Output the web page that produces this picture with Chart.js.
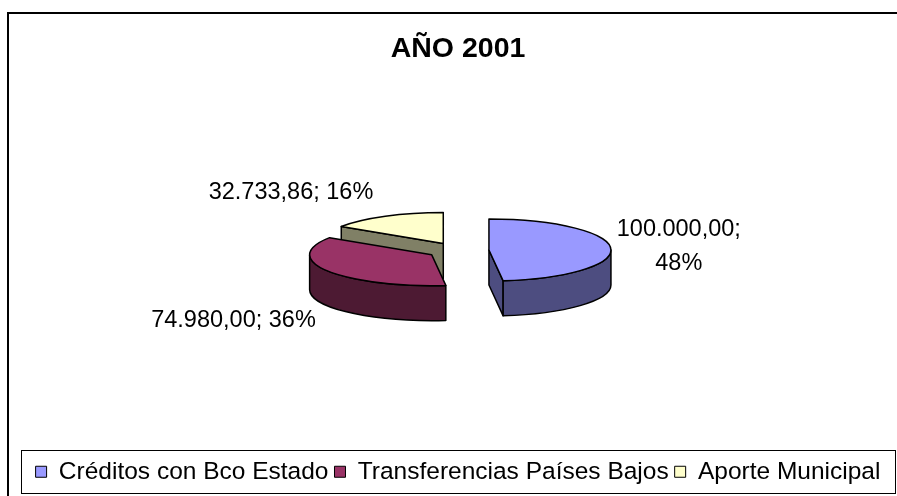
<!DOCTYPE html>
<html>
<head>
<meta charset="utf-8">
<style>
html,body{margin:0;padding:0;background:#fff;}
#wrap{width:897px;height:496px;position:relative;overflow:hidden;}
canvas{display:block;}
</style>
<script src="https://cdn.jsdelivr.net/npm/chart.js@4.4.1/dist/chart.umd.min.js"></script>
</head>
<body>
<div id="wrap"><canvas id="c" width="897" height="496"></canvas></div>
<script>
// ---- data ----
const categories = ['Créditos con Bco Estado', 'Transferencias Países Bajos', 'Aporte Municipal'];
const values = [100000.00, 74980.00, 32733.86];
const topColors = ['#9999FF', '#993366', '#FFFFCC'];
const sideColors = ['#4D4D80', '#4D1A33', '#808066'];
const chartTitle = 'AÑO 2001';

// ---- style / geometry ----
const FONT = "'Liberation Sans', Arial, Helvetica, sans-serif";
const SQUASH = 0.254;   // vertical foreshortening of the pie
const DEPTH = 35;       // thickness of the 3D pie (px)
const EXPLODE = 31;     // slice explosion distance
const CENTER_Y = 250.5; // screen y of pie centre

function fmtEs(v) {
  const parts = v.toFixed(2).split('.');
  return parts[0].replace(/\B(?=(\d{3})+(?!\d))/g, '.') + ',' + parts[1];
}

function geom(chart, el) {
  const ty = chart.$ty;
  return {
    cx: el.x,
    cy: ty + SQUASH * el.y,
    R: el.outerRadius,
    ry: el.outerRadius * SQUASH,
    a1: el.startAngle,
    a2: el.endAngle
  };
}

const pie3d = {
  id: 'pie3d',
  afterDatasetUpdate(chart, args) {
    args.meta.data.forEach(el => {
      const m = (el.startAngle + el.endAngle) / 2;
      el.x += Math.cos(m) * EXPLODE;
      el.y += Math.sin(m) * EXPLODE;
    });
  },
  beforeDatasetsDraw(chart) {
    const ctx = chart.ctx;
    const meta = chart.getDatasetMeta(0);
    const ca = chart.chartArea;
    const cy0 = (ca.top + ca.bottom) / 2;
    chart.$ty = CENTER_Y - SQUASH * cy0;
    const mid = i => (meta.data[i].startAngle + meta.data[i].endAngle) / 2;
    const order = meta.data.map((e, i) => i).sort((a, b) => Math.sin(mid(a)) - Math.sin(mid(b)));
    ctx.save();
    ctx.lineWidth = 1.5;
    ctx.strokeStyle = '#000';
    ctx.lineJoin = 'round';
    for (const i of order) {
      const g = geom(chart, meta.data[i]);
      ctx.fillStyle = sideColors[i];
      const face = t => {
        const px = g.cx + g.R * Math.cos(t), py = g.cy + g.ry * Math.sin(t);
        ctx.beginPath();
        ctx.moveTo(g.cx, g.cy);
        ctx.lineTo(px, py);
        ctx.lineTo(px, py + DEPTH);
        ctx.lineTo(g.cx, g.cy + DEPTH);
        ctx.closePath();
        ctx.fill();
        ctx.stroke();
      };
      if (Math.cos(g.a1) < -1e-9) face(g.a1);
      if (Math.cos(g.a2) > 1e-9) face(g.a2);
      for (const base of [-2 * Math.PI, 0, 2 * Math.PI]) {
        const s = Math.max(g.a1, base), e = Math.min(g.a2, base + Math.PI);
        if (e > s) {
          ctx.beginPath();
          ctx.ellipse(g.cx, g.cy, g.R, g.ry, 0, s, e, false);
          ctx.lineTo(g.cx + g.R * Math.cos(e), g.cy + g.ry * Math.sin(e) + DEPTH);
          ctx.ellipse(g.cx, g.cy + DEPTH, g.R, g.ry, 0, e, s, true);
          ctx.closePath();
          ctx.fill();
          ctx.stroke();
        }
      }
    }
    ctx.restore();
    // squash transform for the library-drawn top faces
    ctx.save();
    ctx.translate(0, chart.$ty);
    ctx.scale(1, SQUASH);
  },
  afterDatasetsDraw(chart) {
    const ctx = chart.ctx;
    ctx.restore();
    const meta = chart.getDatasetMeta(0);
    ctx.save();
    ctx.lineWidth = 1.5;
    ctx.strokeStyle = '#000';
    ctx.lineJoin = 'round';
    meta.data.forEach(el => {
      const g = geom(chart, el);
      ctx.beginPath();
      ctx.moveTo(g.cx, g.cy);
      ctx.lineTo(g.cx + g.R * Math.cos(g.a1), g.cy + g.ry * Math.sin(g.a1));
      ctx.ellipse(g.cx, g.cy, g.R, g.ry, 0, g.a1, g.a2, false);
      ctx.closePath();
      ctx.stroke();
    });
    // data labels
    const total = values.reduce((a, b) => a + b, 0);
    ctx.font = '23.5px ' + FONT;
    ctx.fillStyle = '#000';
    ctx.textBaseline = 'middle';
    meta.data.forEach((el, i) => {
      const g = geom(chart, el);
      const m = (g.a1 + g.a2) / 2;
      const c = Math.cos(m), s = Math.sin(m);
      const rx = g.cx + g.R * c, ryy = g.cy + g.ry * s;
      const ly = ryy + s * 27 + (s > 0 ? DEPTH : 0);
      const valTxt = fmtEs(values[i]) + ';';
      const pctTxt = Math.round(values[i] / total * 100) + '%';
      if (c > 0) {
        const lx = rx + 6;
        const w = Math.max(ctx.measureText(valTxt).width, ctx.measureText(pctTxt).width);
        ctx.textAlign = 'center';
        ctx.fillText(valTxt, lx + w / 2, ly - 17);
        ctx.fillText(pctTxt, lx + w / 2, ly + 17);
      } else {
        ctx.textAlign = 'right';
        ctx.fillText(valTxt + ' ' + pctTxt, rx - 12, ly);
      }
    });
    ctx.restore();
  },
  afterDraw(chart) {
    const ctx = chart.ctx;
    ctx.save();
    // outer chart frame
    ctx.strokeStyle = '#000';
    ctx.lineWidth = 2;
    ctx.beginPath();
    ctx.moveTo(8, 520);
    ctx.lineTo(8, 13);
    ctx.lineTo(920, 13);
    ctx.stroke();
    // legend frame
    const hb = chart.legend.legendHitBoxes;
    if (hb && hb.length) {
      const first = hb[0], last = hb[hb.length - 1];
      const yc = first.top + first.height / 2;
      const left = first.left - 15, right = last.left + last.width + 14;
      ctx.lineWidth = 1;
      ctx.strokeRect(Math.round(left) + 0.5, Math.round(yc - 21.5) + 0.5,
                     Math.round(right - left), 43);
    }
    ctx.restore();
  }
};

new Chart(document.getElementById('c'), {
  type: 'pie',
  data: {
    labels: categories,
    datasets: [{
      data: values,
      backgroundColor: topColors,
      borderWidth: 0,
      clip: false
    }]
  },
  options: {
    responsive: false,
    animation: false,
    events: [],
    radius: 122,
    layout: { padding: { left: 19, right: 0, top: 0, bottom: 2 } },
    plugins: {
      tooltip: { enabled: false },
      title: {
        display: true,
        text: chartTitle,
        color: '#000',
        font: { family: FONT, size: 28.5, weight: 'bold' },
        padding: { top: 32, bottom: 10 }
      },
      legend: {
        display: true,
        position: 'bottom',
        labels: {
          color: '#000',
          font: { family: FONT, size: 24.5 },
          boxWidth: 11,
          boxHeight: 11,
          padding: 6,
          generateLabels: () => categories.map((t, i) => ({
            text: t, fillStyle: topColors[i], strokeStyle: '#000',
            lineWidth: 1, hidden: false, index: i, fontColor: '#000'
          }))
        }
      }
    }
  },
  plugins: [pie3d]
});
</script>
</body>
</html>
